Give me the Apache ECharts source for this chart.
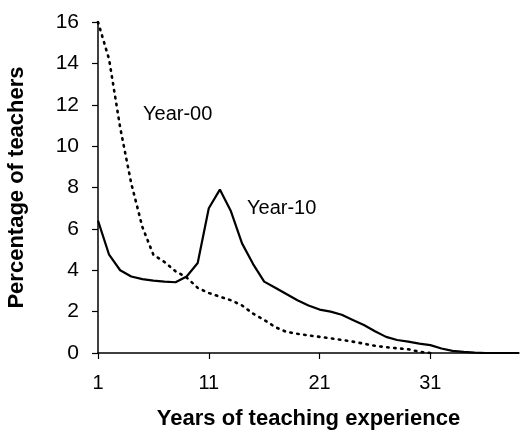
<!DOCTYPE html>
<html>
<head>
<meta charset="utf-8">
<script src="https://cdn.jsdelivr.net/npm/echarts@6/dist/echarts.min.js"></script>
<style>
    html, body { margin: 0; padding: 0; background: #fff; }
    #chart { width: 520px; height: 435px; }
</style>
</head>
<body>
<div id="chart"></div>
<script>
    // years of experience 1..39
    var years = [];
    for (var i = 1; i <= 39; i++) {
        years.push(String(i));
    };

    // Year-00 (dotted)
    var year00 = [16.0, 14.2, 10.9, 8.2, 6.1, 4.75, 4.4, 3.95, 3.65, 3.15,
        2.9, 2.72, 2.55, 2.3, 1.9, 1.6, 1.25, 1.02, 0.93, 0.85,
        0.78, 0.71, 0.63, 0.55, 0.45, 0.35, 0.28, 0.23, 0.18, 0.06,
        0, null, null, null, null, null, null, null, null];

    // Year-10 (solid)
    var year10 = [6.4, 4.75, 4.0, 3.7, 3.57, 3.5, 3.45, 3.42, 3.7, 4.35,
        7.0, 7.9, 6.85, 5.3, 4.3, 3.45, 3.15, 2.85, 2.55, 2.3,
        2.1, 2.0, 1.85, 1.6, 1.35, 1.05, 0.78, 0.63, 0.55, 0.45,
        0.38, 0.22, 0.1, 0.05, 0.02, 0, 0, 0, 0];

    var font = '"Liberation Sans", Arial, sans-serif';

    var chart = echarts.init(document.getElementById('chart'));
    var option = {
        animation: false,
        backgroundColor: '#fff',
        grid: {
            left: 98,
            right: 1,
            top: 22,
            bottom: 82,
            outerBoundsMode: 'none'
        },
        xAxis: {
            type: 'category',
            data: years,
            boundaryGap: false,
            name: 'Years of teaching experience',
            nameLocation: 'middle',
            nameGap: 55,
            nameTextStyle: {
                fontFamily: font,
                fontWeight: 'bold',
                fontSize: 22,
                color: '#000'
            },
            axisLine: {
                lineStyle: { color: '#000', width: 1.5 }
            },
            axisTick: {
                show: true,
                interval: 9,
                length: 6,
                lineStyle: { color: '#000', width: 1.2 }
            },
            axisLabel: {
                interval: 9,
                margin: 20,
                fontFamily: font,
                fontSize: 20,
                color: '#000'
            },
            splitLine: { show: false }
        },
        yAxis: {
            type: 'value',
            min: 0,
            max: 16,
            interval: 2,
            name: 'Percentage of teachers',
            nameLocation: 'middle',
            nameGap: 70,
            nameTextStyle: {
                fontFamily: font,
                fontWeight: 'bold',
                fontSize: 22,
                color: '#000'
            },
            axisLine: {
                show: true,
                lineStyle: { color: '#000', width: 1.5 }
            },
            axisTick: {
                show: true,
                length: 6,
                lineStyle: { color: '#000', width: 1.2 }
            },
            axisLabel: {
                margin: 19,
                fontFamily: font,
                fontSize: 21,
                color: '#000'
            },
            splitLine: { show: false }
        },
        graphic: [
            {
                type: 'text',
                left: 143,
                top: 104,
                style: { text: 'Year-00', font: '20px ' + font, fill: '#000' }
            },
            {
                type: 'text',
                left: 247,
                top: 198,
                style: { text: 'Year-10', font: '20px ' + font, fill: '#000' }
            }
        ],
        series: [
            {
                name: 'Year-00',
                type: 'line',
                data: year00,
                symbol: 'none',
                lineStyle: {
                    color: '#000',
                    width: 2.6,
                    type: [1.5, 5.5],
                    cap: 'round'
                }
            },
            {
                name: 'Year-10',
                type: 'line',
                data: year10,
                symbol: 'none',
                lineStyle: {
                    color: '#000',
                    width: 2.2
                }
            }
        ]
    };
    chart.setOption(option);
</script>
</body>
</html>
